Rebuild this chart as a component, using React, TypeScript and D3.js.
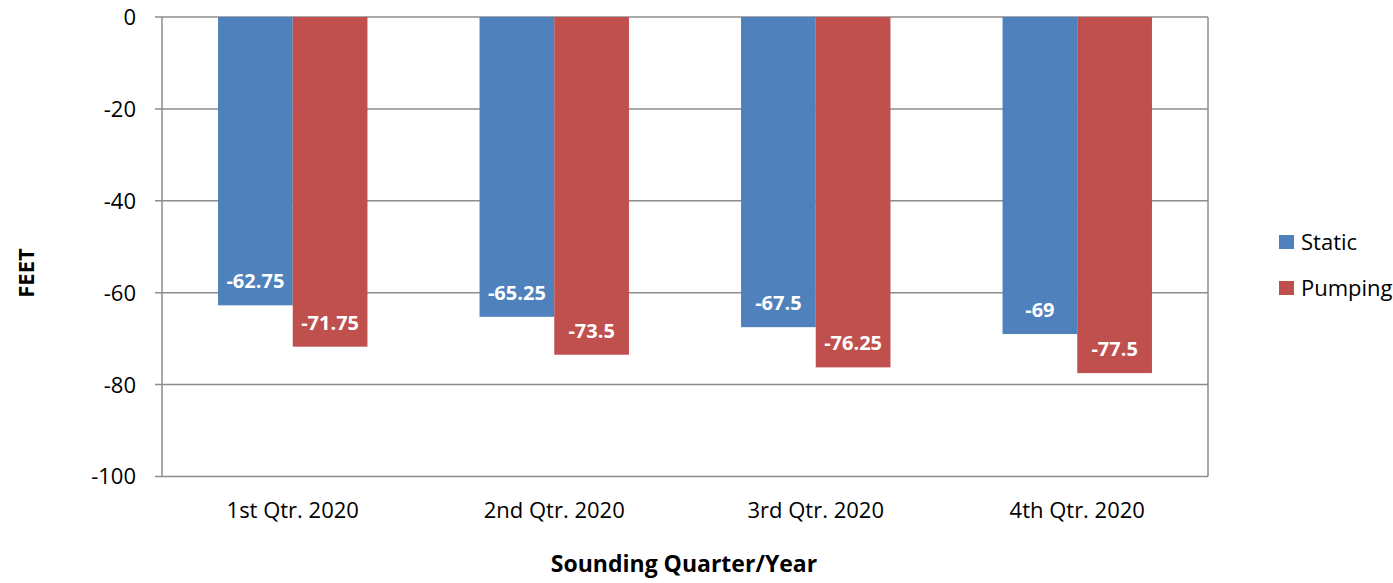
import React from "react";
import * as d3 from "d3";

const categories = ["1st Qtr. 2020", "2nd Qtr. 2020", "3rd Qtr. 2020", "4th Qtr. 2020"];
const staticValues = [-62.75, -65.25, -67.5, -69];
const pumpingValues = [-71.75, -73.5, -76.25, -77.5];
const seriesNames = ["Static", "Pumping"];
const seriesColors = ["#4F81BD", "#C0504D"];
const yTicks = [0, -20, -40, -60, -80, -100];

const W = 1393;
const H = 583;
const left = 162;
const right = 1208;
const top = 17;
const bottom = 476.5;
const FONT = "'Open Sans', Lato, sans-serif";

export default function App() {
  const x = d3.scaleBand<string>().domain(categories).range([left, right]).paddingInner(0).paddingOuter(0);
  const y = d3.scaleLinear().domain([0, -100]).range([top, bottom]);
  const bw = x.bandwidth();
  const barW = bw / (2 + 1.5);
  const series = [staticValues, pumpingValues];

  return (
    <svg width={W} height={H} style={{ position: "absolute", left: 0, top: 0, background: "#fff" }} fontFamily={FONT}>
      {yTicks.map((t) => (
        <g key={t}>
          <line x1={left - 7} x2={right} y1={y(t)} y2={y(t)} stroke="#8c8c8c" strokeWidth={1.5} />
          <text x={left - 26} y={y(t)} dy="0.36em" textAnchor="end" fontSize={22} fill="#000">
            {t}
          </text>
        </g>
      ))}
      <line x1={left} x2={left} y1={top} y2={bottom} stroke="#8c8c8c" strokeWidth={1.5} />
      <line x1={right} x2={right} y1={top} y2={bottom} stroke="#8c8c8c" strokeWidth={1.5} />
      {categories.map((c, i) => {
        const start = (x(c) as number) + (bw - 2 * barW) / 2;
        return (
          <g key={c}>
            {series.map((vals, s) => {
              const v = vals[i];
              const bx = start + s * barW;
              return (
                <g key={s}>
                  <rect x={bx} y={y(0)} width={barW} height={y(v) - y(0)} fill={seriesColors[s]} />
                  <text
                    x={bx + barW / 2}
                    y={y(v) - 17}
                    textAnchor="middle"
                    fontSize={20}
                    fontWeight="bold"
                    fill="#fff"
                  >
                    {v}
                  </text>
                </g>
              );
            })}
            <text x={(x(c) as number) + bw / 2} y={518} textAnchor="middle" fontSize={22} fill="#000">
              {c}
            </text>
          </g>
        );
      })}
      <text x={(left + right) / 2 - 1} y={572} textAnchor="middle" fontSize={23} fontWeight="bold" fill="#000">
        Sounding Quarter/Year
      </text>
      <text transform={`translate(34, 273) rotate(-90)`} textAnchor="middle" fontSize={22} fontWeight="bold" fill="#000">
        FEET
      </text>
      {seriesNames.map((n, i) => (
        <g key={n} transform={`translate(1279, ${242 + i * 46})`}>
          <rect x={0} y={-7} width={15} height={14} fill={seriesColors[i]} />
          <text x={22} y={0} dy="0.36em" fontSize={22} fill="#000">
            {n}
          </text>
        </g>
      ))}
    </svg>
  );
}
